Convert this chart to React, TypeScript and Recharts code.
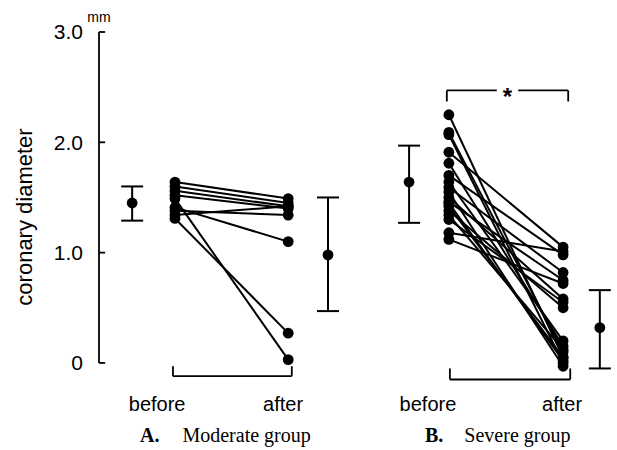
import {
  ComposedChart,
  ErrorBar,
  ReferenceLine,
  Scatter,
  XAxis,
  YAxis,
} from 'recharts';

// paired measurements (mm), one entry per patient
const moderateBefore = [1.64, 1.6, 1.56, 1.52, 1.49, 1.41, 1.38, 1.34, 1.31];
const moderateAfter = [1.49, 1.45, 1.42, 1.4, 0.03, 1.1, 1.34, 1.42, 0.27];

const severeBefore = [
  2.25, 2.09, 2.07, 1.91, 1.81, 1.7, 1.64, 1.59, 1.55, 1.5, 1.46, 1.42, 1.38, 1.34, 1.3, 1.18, 1.12, 1.45,
];
const severeAfter = [
  0.05, 0.1, 0.0, 1.05, 0.15, 0.98, 0.2, 0.82, -0.03, 0.58, 0.75, 0.05, 0.5, 0.12, 0.55, 1.01, 0.72, 0.02,
];

// mean ± SD markers: moderate before, moderate after, severe before, severe after
const summaryMean = [1.45, 0.98, 1.64, 0.32];
const summaryLow = [1.29, 0.47, 1.27, -0.05];
const summaryHigh = [1.6, 1.5, 1.97, 0.66];

const yTicks = [0, 1, 2, 3];
const timeLabels = ['before', 'after', 'before', 'after'];

// horizontal layout (x axis units)
const X_BEFORE_A = 1.49;
const X_AFTER_A = 3.71;
const X_BEFORE_B = 6.86;
const X_AFTER_B = 9.1;
const summaryX = [0.65, 4.49, 6.08, 9.82];
const labelX = [1.14, 3.61, 6.45, 9.08];

const sans = '"Liberation Sans", Arial, Helvetica, sans-serif';
const serif = '"Liberation Serif", "Times New Roman", serif';

const dot = (props: any) => <circle cx={props.cx} cy={props.cy} r={5.4} fill="#000" />;

const pairs = (before: number[], after: number[], xb: number, xa: number) =>
  before.map((b, i) => [
    { x: xb, y: b },
    { x: xa, y: after[i] },
  ]);

const moderatePairs = pairs(moderateBefore, moderateAfter, X_BEFORE_A, X_AFTER_A);
const severePairs = pairs(severeBefore, severeAfter, X_BEFORE_B, X_AFTER_B);

const summaryData = summaryMean.map((m, i) => ({
  x: summaryX[i],
  y: m,
  err: [m - summaryLow[i], summaryHigh[i] - m],
}));

const seg = (x1: number, y1: number, x2: number, y2: number, key: string) => (
  <ReferenceLine
    key={key}
    segment={[
      { x: x1, y: y1 },
      { x: x2, y: y2 },
    ]}
    stroke="#000"
    strokeWidth={1.8}
    ifOverflow="visible"
  />
);

export default function App() {
  return (
    <div style={{ position: 'absolute', left: 0, top: 0, width: 617, height: 450, background: '#fff', color: '#000' }}>
      <ComposedChart width={617} height={450} margin={{ top: 32, right: 8, bottom: 0, left: 0 }}>
        <XAxis
          type="number"
          dataKey="x"
          domain={[0, 10]}
          ticks={labelX}
          tickFormatter={(_v: number, i: number) => timeLabels[i]}
          axisLine={false}
          tickLine={false}
          tickSize={0}
          tickMargin={12}
          interval={0}
          tick={{ fill: '#000', fontSize: 20, fontFamily: sans }}
          height={65}
        />
        <YAxis
          type="number"
          dataKey="y"
          domain={[-0.2, 3]}
          ticks={yTicks}
          tickFormatter={(v: number) => (v === 0 ? '0' : v.toFixed(1))}
          axisLine={false}
          tickLine={false}
          tickSize={0}
          tickMargin={16}
          width={99}
          tick={{ fill: '#000', fontSize: 21, fontFamily: sans }}
        />

        {/* y axis with inward ticks */}
        {seg(0, 0, 0, 3, 'axis')}
        {yTicks.map((t) => seg(0, t, 0.12, t, `tick-${t}`))}

        {/* brackets */}
        {seg(1.45, -0.12, 3.78, -0.12, 'ba1')}
        {seg(1.45, -0.12, 1.45, -0.03, 'ba2')}
        {seg(3.78, -0.12, 3.78, -0.03, 'ba3')}
        {seg(6.88, -0.15, 9.24, -0.15, 'bb1')}
        {seg(6.88, -0.15, 6.88, -0.05, 'bb2')}
        {seg(9.24, -0.15, 9.24, -0.05, 'bb3')}
        {seg(6.82, 2.47, 7.8, 2.47, 'tb1')}
        {seg(8.22, 2.47, 9.2, 2.47, 'tb2')}
        {seg(6.82, 2.47, 6.82, 2.37, 'tb3')}
        {seg(9.2, 2.47, 9.2, 2.37, 'tb4')}
        <ReferenceLine
          segment={[
            { x: 7.9, y: 2.47 },
            { x: 8.12, y: 2.47 },
          ]}
          stroke="none"
          ifOverflow="visible"
          label={{ value: '*', position: 'center', fill: '#000', fontSize: 24, fontWeight: 'bold', fontFamily: sans, dy: 6 }}
        />

        {moderatePairs.map((d, i) => (
          <Scatter
            key={`m${i}`}
            data={d}
            line={{ stroke: '#000', strokeWidth: 2 }}
            shape={dot}
            isAnimationActive={false}
          />
        ))}
        {severePairs.map((d, i) => (
          <Scatter
            key={`s${i}`}
            data={d}
            line={{ stroke: '#000', strokeWidth: 2 }}
            shape={dot}
            isAnimationActive={false}
          />
        ))}
        <Scatter data={summaryData} shape={dot} isAnimationActive={false}>
          <ErrorBar dataKey="err" direction="y" width={11} stroke="#000" strokeWidth={2} isAnimationActive={false} />
        </Scatter>
      </ComposedChart>

      <div style={{ position: 'absolute', left: 99, top: 17, transform: 'translate(-50%, -50%)', fontFamily: sans, fontSize: 14, color: '#000' }}>
        mm
      </div>
      <div
        style={{
          position: 'absolute',
          left: 25,
          top: 217,
          transform: 'translate(-50%, -50%) rotate(-90deg)',
          whiteSpace: 'nowrap',
          fontFamily: sans,
          fontSize: 22,
          color: '#000',
        }}
      >
        coronary diameter
      </div>
      <div style={{ position: 'absolute', left: 140, top: 424, whiteSpace: 'nowrap', fontFamily: serif, fontSize: 20, color: '#000' }}>
        <b>A.</b>
        <span style={{ marginLeft: 23 }}>Moderate group</span>
      </div>
      <div style={{ position: 'absolute', left: 425, top: 424, whiteSpace: 'nowrap', fontFamily: serif, fontSize: 20, color: '#000' }}>
        <b>B.</b>
        <span style={{ marginLeft: 21 }}>Severe group</span>
      </div>
    </div>
  );
}
